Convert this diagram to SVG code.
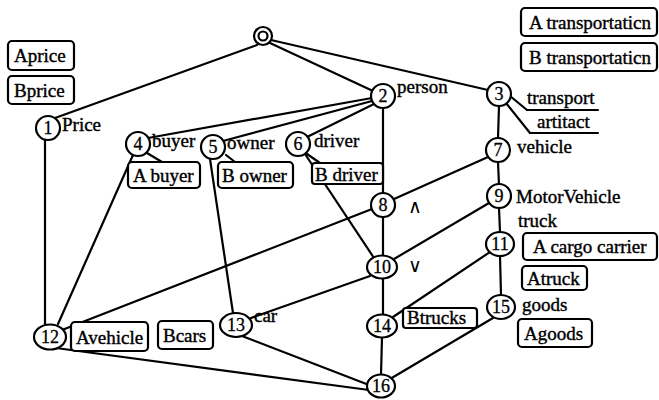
<svg xmlns="http://www.w3.org/2000/svg" width="659" height="400" viewBox="0 0 659 400">
  <style>
    .edge { stroke: #000; stroke-width: 2.2; fill: none; stroke-linecap: round; }
    .node { fill: #fff; stroke: #000; stroke-width: 2.2; }
    .box { fill: #fff; stroke: #000; stroke-width: 2.2; }
    text { font-family: "Liberation Serif", "Times New Roman", serif; }
    .num { font-size: 18px; text-anchor: middle; fill: #000; stroke: #000; stroke-width: 0.3; }
    .lbl { font-size: 19px; fill: #000; stroke: #000; stroke-width: 0.4; }
    .op { font-family: "DejaVu Sans", sans-serif; font-size: 19px; fill: #000; }
  </style>

  <!-- connectors -->
  <g id="edges">
    <line class="edge" x1="257" y1="45" x2="55" y2="118"/>
    <line class="edge" x1="270" y1="43" x2="373" y2="91"/>
    <line class="edge" x1="271" y1="40" x2="488" y2="90"/>
    <line class="edge" x1="372" y1="98" x2="148" y2="138"/>
    <line class="edge" x1="372" y1="101" x2="223" y2="141"/>
    <line class="edge" x1="374" y1="104" x2="307" y2="137"/>
    <line class="edge" x1="383" y1="108" x2="383" y2="193"/>
    <line class="edge" x1="510" y1="96" x2="527" y2="110"/>
    <line class="edge" x1="527" y1="110" x2="598" y2="110"/>
    <line class="edge" x1="506" y1="103" x2="530" y2="133"/>
    <line class="edge" x1="530" y1="133" x2="598" y2="133"/>
    <line class="edge" x1="499" y1="106" x2="498" y2="138"/>
    <line class="edge" x1="498" y1="162" x2="499" y2="185"/>
    <line class="edge" x1="499" y1="208" x2="500" y2="232"/>
    <line class="edge" x1="500" y1="256" x2="501" y2="295"/>
    <line class="edge" x1="45" y1="140" x2="45" y2="324"/>
    <line class="edge" x1="133" y1="155" x2="58" y2="324"/>
    <line class="edge" x1="147" y1="153" x2="162" y2="162"/>
    <line class="edge" x1="210" y1="159" x2="233" y2="313"/>
    <line class="edge" x1="226" y1="155" x2="235" y2="162"/>
    <line class="edge" x1="305" y1="154" x2="374" y2="258"/>
    <line class="edge" x1="307" y1="154" x2="320" y2="163"/>
    <line class="edge" x1="62" y1="330" x2="372" y2="209"/>
    <line class="edge" x1="394" y1="199" x2="488" y2="157"/>
    <line class="edge" x1="383" y1="217" x2="383" y2="255"/>
    <line class="edge" x1="489" y1="203" x2="394" y2="259"/>
    <line class="edge" x1="370" y1="276" x2="251" y2="318"/>
    <line class="edge" x1="383" y1="279" x2="383" y2="315"/>
    <line class="edge" x1="490" y1="252" x2="393" y2="317"/>
    <line class="edge" x1="493" y1="318" x2="390" y2="379"/>
    <line class="edge" x1="382" y1="337" x2="381" y2="375"/>
    <line class="edge" x1="242" y1="336" x2="369" y2="385"/>
    <line class="edge" x1="56" y1="348" x2="369" y2="390"/>
  </g>

  <!-- top element -->
  <g id="top">
    <circle class="node" cx="263" cy="36" r="9"/>
    <circle class="node" cx="263" cy="36" r="4.5"/>
  </g>

  <g id="n1">
    <circle class="node" cx="48" cy="128" r="12"/>
    <text class="num" x="48" y="134">1</text>
    <text class="lbl" x="62" y="131">Price</text>
  </g>
  <g id="n2">
    <circle class="node" cx="383" cy="96" r="12"/>
    <text class="num" x="383" y="102">2</text>
    <text class="lbl" x="397" y="93">person</text>
  </g>
  <g id="n3">
    <circle class="node" cx="499" cy="94" r="12"/>
    <text class="num" x="499" y="100">3</text>
    <text class="lbl" x="527" y="104">transport</text>
    <text class="lbl" x="537" y="128">artitact</text>
  </g>
  <g id="n4">
    <circle class="node" cx="138" cy="144" r="12"/>
    <text class="num" x="138" y="150">4</text>
    <text class="lbl" x="152" y="147">buyer</text>
  </g>
  <g id="n5">
    <circle class="node" cx="213" cy="147" r="12"/>
    <text class="num" x="213" y="153">5</text>
    <text class="lbl" x="227" y="149">owner</text>
  </g>
  <g id="n6">
    <circle class="node" cx="298" cy="144" r="12"/>
    <text class="num" x="298" y="150">6</text>
    <text class="lbl" x="314" y="147">driver</text>
  </g>
  <g id="n7">
    <circle class="node" cx="498" cy="150" r="12"/>
    <text class="num" x="498" y="156">7</text>
    <text class="lbl" x="517" y="153">vehicle</text>
  </g>
  <g id="n8">
    <circle class="node" cx="383" cy="205" r="12"/>
    <text class="num" x="383" y="211">8</text>
    <text class="op" x="408" y="213">∧</text>
  </g>
  <g id="n9">
    <circle class="node" cx="499" cy="196" r="12"/>
    <text class="num" x="499" y="202">9</text>
    <text class="lbl" x="516" y="203">MotorVehicle</text>
    <text class="lbl" x="518" y="227">truck</text>
  </g>
  <g id="n10">
    <ellipse class="node" cx="382" cy="267" rx="15" ry="11.5"/>
    <text class="num" x="382" y="273">10</text>
    <text class="op" x="408" y="272">∨</text>
  </g>
  <g id="n11">
    <ellipse class="node" cx="500" cy="244" rx="14" ry="12"/>
    <text class="num" x="500" y="250">11</text>
  </g>
  <g id="n12">
    <ellipse class="node" cx="50" cy="337" rx="16" ry="12.5"/>
    <text class="num" x="50" y="343">12</text>
  </g>
  <g id="n13">
    <ellipse class="node" cx="236" cy="325" rx="16" ry="12"/>
    <text class="num" x="236" y="331">13</text>
    <text class="lbl" x="254" y="322">car</text>
  </g>
  <g id="n14">
    <ellipse class="node" cx="382" cy="326" rx="15" ry="11.5"/>
    <text class="num" x="382" y="332">14</text>
  </g>
  <g id="n15">
    <ellipse class="node" cx="501" cy="307" rx="14" ry="12"/>
    <text class="num" x="501" y="313">15</text>
    <text class="lbl" x="522" y="311">goods</text>
  </g>
  <g id="n16">
    <ellipse class="node" cx="381" cy="386" rx="14" ry="11.5"/>
    <text class="num" x="381" y="392">16</text>
  </g>

  <!-- attribute boxes -->
  <g id="b-aprice"><rect class="box" x="8" y="41" width="66" height="29" rx="4"/><text class="lbl" x="14" y="62">Aprice</text></g>
  <g id="b-bprice"><rect class="box" x="8" y="76" width="66" height="28" rx="4"/><text class="lbl" x="14" y="97">Bprice</text></g>
  <g id="b-atrans"><rect class="box" x="521" y="8" width="136" height="28" rx="4"/><text class="lbl" x="529" y="29">A transportaticn</text></g>
  <g id="b-btrans"><rect class="box" x="521" y="43" width="136" height="28" rx="4"/><text class="lbl" x="529" y="64">B transportaticn</text></g>
  <g id="b-abuyer"><rect class="box" x="128" y="162" width="72" height="26" rx="4"/><text class="lbl" x="133" y="182">A buyer</text></g>
  <g id="b-bowner"><rect class="box" x="218" y="162" width="75" height="26" rx="4"/><text class="lbl" x="222" y="182">B owner</text></g>
  <g id="b-bdriver"><rect class="box" x="312" y="163" width="71" height="21" rx="3"/><text class="lbl" x="315" y="181">B driver</text></g>
  <g id="b-cargo"><rect class="box" x="523" y="233" width="134" height="27" rx="4"/><text class="lbl" x="533" y="253">A cargo carrier</text></g>
  <g id="b-atruck"><rect class="box" x="522" y="266" width="65" height="24" rx="4"/><text class="lbl" x="527" y="285">Atruck</text></g>
  <g id="b-agoods"><rect class="box" x="518" y="319" width="74" height="28" rx="4"/><text class="lbl" x="524" y="340">Agoods</text></g>
  <g id="b-btrucks"><rect class="box" x="403" y="308" width="74" height="20" rx="3"/><text class="lbl" x="407" y="324">Btrucks</text></g>
  <g id="b-avehicle"><rect class="box" x="71" y="322" width="77" height="29" rx="4"/><text class="lbl" x="76" y="344">Avehicle</text></g>
  <g id="b-bcars"><rect class="box" x="158" y="321" width="55" height="28" rx="4"/><text class="lbl" x="163" y="342">Bcars</text></g>
</svg>
